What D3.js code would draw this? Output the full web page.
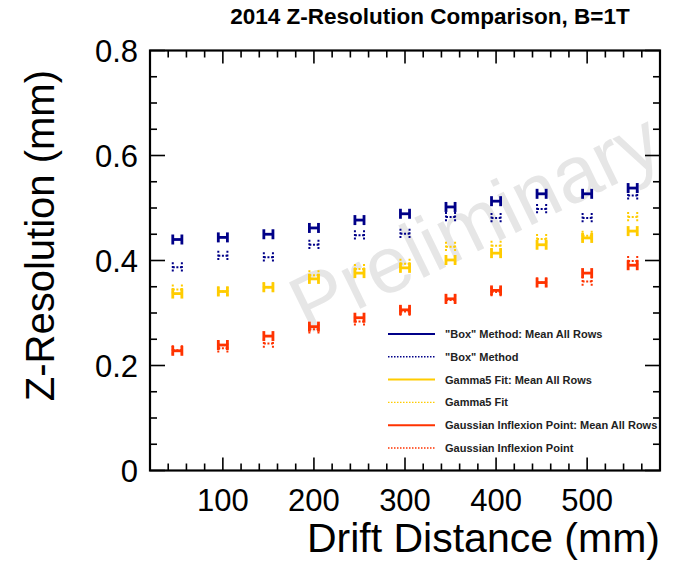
<!DOCTYPE html>
<html><head><meta charset="utf-8">
<script src="https://cdn.jsdelivr.net/npm/d3@7"></script>
<style>html,body{margin:0;padding:0;background:#fff;}svg{display:block;font-family:"Liberation Sans",Arial,Helvetica,sans-serif;}</style>
</head><body>
<svg id="c" width="679" height="561"></svg>
<script>
const distances = [50,100,150,200,250,300,350,400,450,500,550];
const boxMean   = [0.440,0.444,0.450,0.462,0.477,0.489,0.502,0.513,0.527,0.527,0.538];
const box       = [0.387,0.409,0.406,0.430,0.448,0.451,0.483,0.481,0.498,0.481,0.524];
const gammaMean = [0.337,0.341,0.349,0.365,0.376,0.386,0.401,0.414,0.430,0.443,0.456];
const gamma     = [0.345,0.341,0.349,0.372,0.384,0.394,0.426,0.428,0.441,0.447,0.483];
const gaussMean = [0.228,0.239,0.256,0.274,0.291,0.306,0.327,0.343,0.358,0.376,0.391];
const gauss     = [0.229,0.233,0.242,0.269,0.284,0.303,0.325,0.340,0.358,0.360,0.399];
const xErr = 5;
const seriesNames = ['"Box" Method: Mean All Rows','"Box" Method','Gamma5 Fit: Mean All Rows','Gamma5 Fit','Gaussian Inflexion Point: Mean All Rows','Gaussian Inflexion Point'];
const xTickLabels = [100,200,300,400,500];
const yTickLabels = [0,0.2,0.4,0.6,0.8];
const titleText = "2014 Z-Resolution Comparison, B=1T";
const xTitle = "Drift Distance (mm)";
const yTitle = "Z-Resolution (mm)";

const blue="#000088", yellow="#ffcc00", red="#ff3300";
const series = [
  {name:seriesNames[0], vals:boxMean, color:blue, dotted:false},
  {name:seriesNames[1], vals:box, color:blue, dotted:true},
  {name:seriesNames[2], vals:gammaMean, color:yellow, dotted:false},
  {name:seriesNames[3], vals:gamma, color:yellow, dotted:true},
  {name:seriesNames[4], vals:gaussMean, color:red, dotted:false},
  {name:seriesNames[5], vals:gauss, color:red, dotted:true}
];

const svg = d3.select("#c");
const L=150, R=660, T=50.5, B=470.5;
const x = d3.scaleLinear().domain([20,580]).range([L,R]);
const y = d3.scaleLinear().domain([0,0.8]).range([B,T]);

// watermark
svg.append("text").attr("transform","translate(487,247) rotate(-26)")
  .attr("text-anchor","middle").attr("font-size",80).attr("fill","#e6e6e6")
  .text("Preliminary");

// ticks
const g = svg.append("g").attr("stroke","#000").attr("stroke-width",1.6);
const xMinor = d3.range(20,581,20);
xMinor.forEach(v=>{
  const major = v%100===0;
  const len = major?13:7;
  g.append("line").attr("x1",x(v)).attr("x2",x(v)).attr("y1",B).attr("y2",B-len);
  g.append("line").attr("x1",x(v)).attr("x2",x(v)).attr("y1",T).attr("y2",T+len);
});
const yMinor = d3.range(0,16+1).map(i=>i*0.05);
yMinor.forEach((v,i)=>{
  const major = i%4===0;
  const len = major?15:7;
  g.append("line").attr("x1",L).attr("x2",L+len).attr("y1",y(v)).attr("y2",y(v));
  g.append("line").attr("x1",R).attr("x2",R-len).attr("y1",y(v)).attr("y2",y(v));
});
// frame
svg.append("rect").attr("x",L).attr("y",T).attr("width",R-L).attr("height",B-T)
  .attr("fill","none").attr("stroke","#000").attr("stroke-width",2.2);

// tick labels
svg.append("g").selectAll("text").data(xTickLabels).join("text")
  .attr("x",d=>x(d)).attr("y",511).attr("text-anchor","middle").attr("font-size",31).text(d=>d);
svg.append("g").selectAll("text").data(yTickLabels).join("text")
  .attr("x",138).attr("y",d=>y(d)+11).attr("text-anchor","end").attr("font-size",31)
  .text(d=>d===0?"0":d.toFixed(1));

// titles
svg.append("text").attr("x",430).attr("y",24).attr("text-anchor","middle")
  .attr("font-size",22.5).attr("font-weight","bold").text(titleText);
svg.append("text").attr("x",R).attr("y",552).attr("text-anchor","end")
  .attr("font-size",41).text(xTitle);
svg.append("text").attr("transform","translate(54,70) rotate(-90)").attr("text-anchor","end")
  .attr("font-size",40).text(yTitle);

// data
series.forEach(s=>{
  const sg = svg.append("g").attr("stroke",s.color).attr("fill","none")
    .attr("stroke-width",s.dotted?2:2.8).attr("stroke-dasharray",s.dotted?"2,1.6":null);
  distances.forEach((d,i)=>{
    const cy=y(s.vals[i]);
    const x0=x(d-xErr), x1=x(d+xErr);
    sg.append("line").attr("x1",x0).attr("x2",x1).attr("y1",cy).attr("y2",cy);
    sg.append("line").attr("x1",x0).attr("x2",x0).attr("y1",cy-5).attr("y2",cy+5);
    sg.append("line").attr("x1",x1).attr("x2",x1).attr("y1",cy-5).attr("y2",cy+5);
  });
});

// legend
const lg = svg.append("g");
series.forEach((s,i)=>{
  const ly = 334 + i*22.8;
  lg.append("line").attr("x1",388).attr("x2",435).attr("y1",ly).attr("y2",ly)
    .attr("stroke",s.color).attr("stroke-width",s.dotted?1.4:2)
    .attr("stroke-dasharray",s.dotted?"1.5,1.5":null);
  lg.append("text").attr("x",445).attr("y",ly+4).attr("font-size",11)
    .attr("font-weight","bold").attr("fill","#222").text(s.name);
});
</script>
</body></html>
